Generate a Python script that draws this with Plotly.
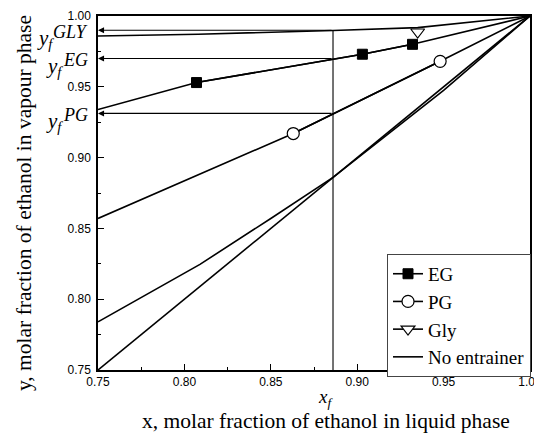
import plotly.graph_objects as go

# ---- data ----
diag_x = [0.75, 1.0]
diag_y = [0.75, 1.0]

ne_x = [0.75, 0.809, 0.85, 0.886, 0.95, 1.0]
ne_y = [0.784, 0.8246, 0.857, 0.886, 0.9475, 1.0]

eg_line_x = [0.75, 0.807, 0.903, 0.932, 1.0]
eg_line_y = [0.934, 0.953, 0.973, 0.980, 1.0]
eg_pts_x = [0.807, 0.903, 0.932]
eg_pts_y = [0.953, 0.973, 0.980]

pg_line_x = [0.75, 0.863, 0.948, 1.0]
pg_line_y = [0.857, 0.917, 0.968, 1.0]
pg_pts_x = [0.863, 0.948]
pg_pts_y = [0.917, 0.968]

gly_line_x = [0.75, 0.808, 0.886, 0.935, 1.0]
gly_line_y = [0.9859, 0.9871, 0.9898, 0.9918, 1.0]
gly_pts_x = [0.935]
gly_pts_y = [0.9887]

xf = 0.886
yf_labels = ["GLY", "EG", "PG"]
yf_values = [0.9899, 0.970, 0.9312]

x_ticks = [0.75, 0.80, 0.85, 0.90, 0.95, 1.00]
y_ticks = [0.75, 0.80, 0.85, 0.90, 0.95, 1.00]
minor_ticks = [0.775, 0.825, 0.875, 0.925, 0.975]

x_title = "x, molar fraction of ethanol in liquid phase"
y_title = "y, molar fraction of ethanol in vapour phase"

SERIF = "Liberation Serif, Times New Roman, serif"
SANS = "Liberation Sans, Arial, sans-serif"
LW = 1.6

fig = go.Figure()

fig.add_trace(go.Scatter(x=diag_x, y=diag_y, mode="lines",
                         line=dict(color="black", width=LW), showlegend=False,
                         hoverinfo="skip"))

fig.add_trace(go.Scatter(x=[xf, xf], y=[0.75, yf_values[0]], mode="lines",
                         line=dict(color="black", width=1.1), showlegend=False,
                         hoverinfo="skip"))

for lx, ly in [(eg_line_x, eg_line_y), (pg_line_x, pg_line_y), (gly_line_x, gly_line_y)]:
    fig.add_trace(go.Scatter(x=lx, y=ly, mode="lines",
                             line=dict(color="black", width=LW), showlegend=False,
                             hoverinfo="skip"))

fig.add_trace(go.Scatter(x=eg_pts_x, y=eg_pts_y, mode="lines+markers", name="EG",
                         line=dict(color="black", width=LW),
                         marker=dict(symbol="square", size=10, color="black",
                                     line=dict(color="black", width=1))))
fig.add_trace(go.Scatter(x=pg_pts_x, y=pg_pts_y, mode="lines+markers", name="PG",
                         line=dict(color="black", width=LW),
                         marker=dict(symbol="circle", size=12, color="white",
                                     line=dict(color="black", width=1.2))))
fig.add_trace(go.Scatter(x=gly_pts_x, y=gly_pts_y, mode="lines+markers", name="Gly",
                         line=dict(color="black", width=LW),
                         marker=dict(symbol="triangle-down", size=12, color="white",
                                     line=dict(color="black", width=1.2))))
fig.add_trace(go.Scatter(x=ne_x, y=ne_y, mode="lines", name="No entrainer",
                         line=dict(color="black", width=LW)))

suffix_width = {"GLY": 34, "EG": 25, "PG": 25}
annotations = []
for lab, yv in zip(yf_labels, yf_values):
    annotations.append(dict(x=0.75, y=yv, ax=xf, ay=yv, xref="x", yref="y",
                            axref="x", ayref="y", text="", showarrow=True,
                            arrowhead=2, arrowsize=1.1, arrowwidth=1.1,
                            arrowcolor="black", standoff=0, startstandoff=0))
    annotations.append(dict(x=0.75, y=yv, xref="x", yref="y", xanchor="right",
                            yanchor="middle", xshift=-8, yshift=-2, showarrow=False,
                            text="<i>" + lab + "</i>",
                            font=dict(family=SERIF, size=18, color="black")))
    annotations.append(dict(x=0.75, y=yv, xref="x", yref="y", xanchor="right",
                            yanchor="middle", xshift=-8 - suffix_width[lab], yshift=-9,
                            showarrow=False,
                            text="<i>y<sub>f</sub></i>",
                            font=dict(family=SERIF, size=21, color="black")))

annotations.append(dict(x=xf, y=0, xref="x", yref="paper", yanchor="middle",
                        xanchor="center", xshift=-8, yshift=-28, showarrow=False,
                        text="<i>x<sub>f</sub></i>",
                        font=dict(family=SERIF, size=19, color="black")))
annotations.append(dict(x=0.5, y=0, xref="paper", yref="paper", yanchor="middle",
                        xanchor="center", xshift=12, yshift=-51, showarrow=False,
                        text=x_title,
                        font=dict(family=SERIF, size=21.5, color="black")))
annotations.append(dict(x=0, y=0.5, xref="paper", yref="paper", yanchor="middle",
                        xanchor="center", xshift=-74, yshift=-10, showarrow=False,
                        text=y_title, textangle=-90,
                        font=dict(family=SERIF, size=21.5, color="black")))

# page body has an 8px margin, so the figure is drawn 8px in from the corner
fig.update_layout(
    width=534, height=426,
    margin=dict(l=90, r=12, t=8, b=64),
    paper_bgcolor="white", plot_bgcolor="white",
    showlegend=True,
    legend=dict(x=0.669, y=0.328, xanchor="left", yanchor="top",
                bgcolor="white", bordercolor="#444", borderwidth=1,
                font=dict(family=SERIF, size=19, color="black"),
                itemwidth=30, tracegroupgap=0),
    annotations=annotations,
)

common = dict(showgrid=False, zeroline=False, showline=True, linecolor="black",
              linewidth=1.5, mirror=True, ticks="inside", ticklen=6,
              tickwidth=1, tickcolor="black", tickformat=".2f", automargin=False,
              ticklabeloverflow="allow",
              tickfont=dict(family=SANS, size=12, color="black"),
              minor=dict(ticks="inside", ticklen=3, tickwidth=1, tickcolor="black",
                         tickvals=minor_ticks))

fig.update_xaxes(range=[0.75, 1.0], tickvals=x_ticks, **common)
fig.update_yaxes(range=[0.75, 1.0], tickvals=y_ticks, ticklabelstandoff=3, **common)

fig.write_html("out.html")
